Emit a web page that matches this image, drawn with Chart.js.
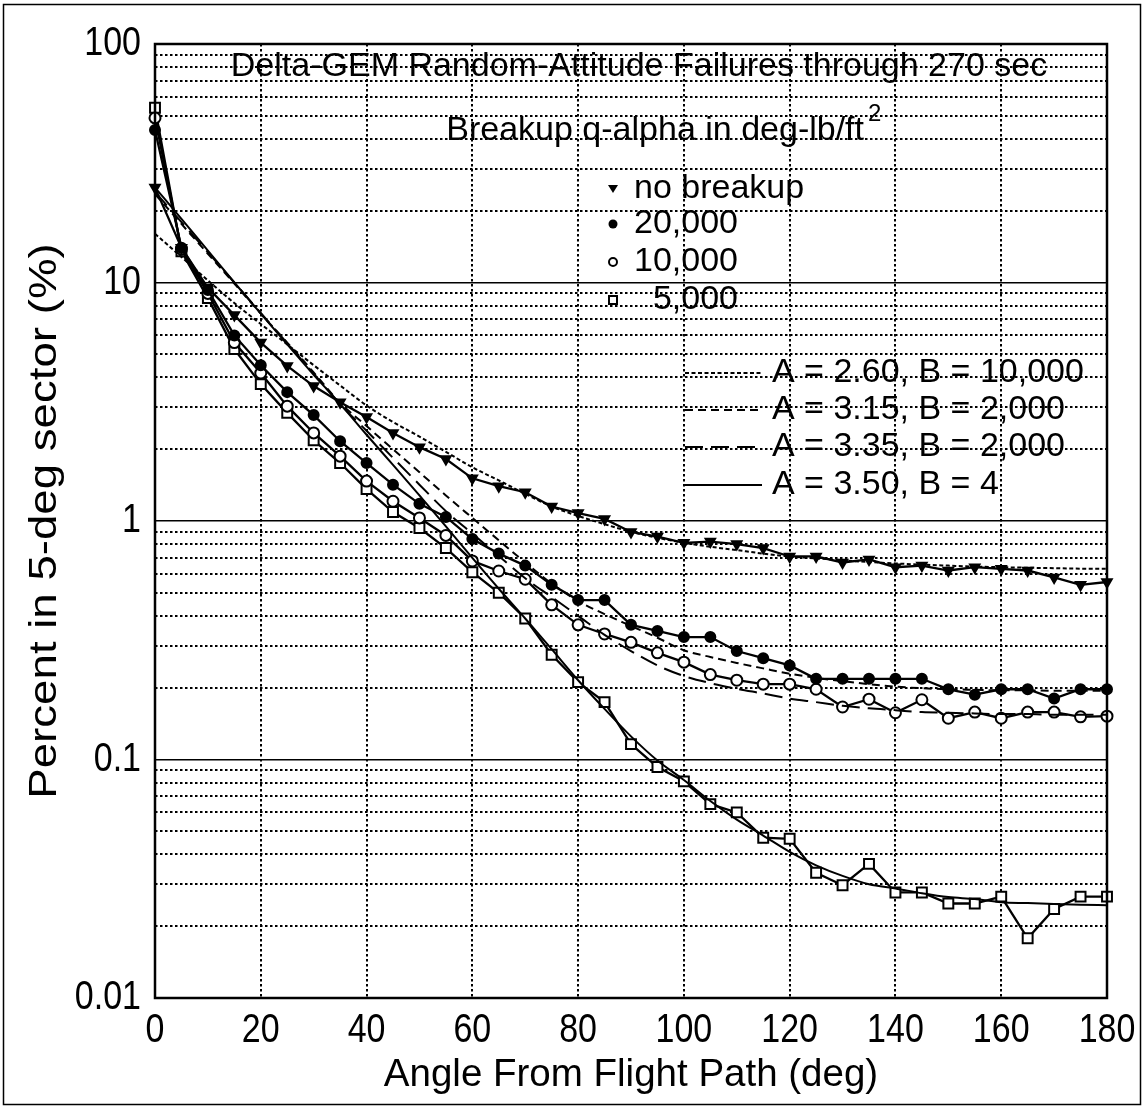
<!DOCTYPE html>
<html>
<head>
<meta charset="utf-8">
<title>Delta-GEM Random-Attitude Failures through 270 sec</title>
<script src="https://cdn.jsdelivr.net/npm/chart.js@4.4.0/dist/chart.umd.min.js"></script>
<style>
  html, body { margin: 0; padding: 0; background: #fff; }
</style>
</head>
<body>
<canvas id="chart" width="1145" height="1109"></canvas>
<script>
// Angle from flight path (deg), one point every 5 deg
const angles = [0, 5, 10, 15, 20, 25, 30, 35, 40, 45, 50, 55, 60, 65, 70, 75, 80, 85, 90,
  95, 100, 105, 110, 115, 120, 125, 130, 135, 140, 145, 150, 155, 160, 165, 170, 175, 180];

// Percent in 5-deg sector
const noBreakup = [25, 14.0, 9.5, 7.3, 5.6, 4.47, 3.68, 3.15, 2.73, 2.34, 2.04, 1.82, 1.51, 1.40, 1.32,
  1.15, 1.08, 1.02, 0.90, 0.86, 0.81, 0.82, 0.80, 0.77, 0.71, 0.71, 0.67, 0.69, 0.64, 0.65, 0.62,
  0.64, 0.63, 0.62, 0.58, 0.54, 0.555];
const q20000 = [43.6, 14.0, 9.3, 6.0, 4.5, 3.47, 2.78, 2.16, 1.75, 1.42, 1.18, 1.04, 0.84, 0.73, 0.65,
  0.54, 0.466, 0.466, 0.367, 0.346, 0.326, 0.326, 0.285, 0.266, 0.248, 0.218, 0.218, 0.218, 0.218,
  0.218, 0.197, 0.187, 0.197, 0.197, 0.180, 0.197, 0.197];
const q10000 = [49, 13.8, 9.0, 5.6, 4.17, 3.03, 2.34, 1.87, 1.47, 1.21, 1.03, 0.87, 0.68, 0.617, 0.57,
  0.445, 0.367, 0.336, 0.31, 0.28, 0.256, 0.227, 0.215, 0.207, 0.207, 0.197, 0.166, 0.179, 0.157,
  0.178, 0.149, 0.158, 0.149, 0.158, 0.158, 0.151, 0.152];
const q5000 = [54, 13.5, 8.6, 5.26, 3.75, 2.84, 2.18, 1.75, 1.36, 1.09, 0.935, 0.77, 0.61, 0.50, 0.39,
  0.275, 0.211, 0.174, 0.116, 0.093, 0.081, 0.065, 0.060, 0.047, 0.0465, 0.0335, 0.0297, 0.0365,
  0.0277, 0.0277, 0.0249, 0.0249, 0.0266, 0.0178, 0.0236, 0.0266, 0.0266];

// Fitted curves
const fitA260 = [16.0, 12.8, 10.2, 8.2, 6.7, 5.5, 4.5, 3.7, 3.05, 2.6, 2.26, 1.95, 1.68, 1.48, 1.30,
  1.15, 1.05, 0.97, 0.90, 0.85, 0.81, 0.78, 0.755, 0.73, 0.71, 0.697, 0.684, 0.673, 0.664, 0.656,
  0.65, 0.644, 0.64, 0.637, 0.634, 0.631, 0.63];
const fitA315 = [23.5, 17.6, 13.2, 9.9, 7.4, 5.6, 4.2, 3.13, 2.5, 2.0, 1.6, 1.28, 1.03, 0.83, 0.67,
  0.547, 0.462, 0.407, 0.363, 0.324, 0.287, 0.269, 0.254, 0.241, 0.229, 0.22, 0.213, 0.207, 0.202,
  0.199, 0.197, 0.196, 0.195, 0.195, 0.194, 0.194, 0.194];
const fitA335 = [24, 17.9, 13.4, 10.0, 7.45, 5.56, 4.15, 3.09, 2.39, 1.84, 1.42, 1.10, 0.885, 0.713,
  0.575, 0.48, 0.40, 0.333, 0.285, 0.248, 0.224, 0.209, 0.198, 0.189, 0.18, 0.174, 0.168, 0.164,
  0.161, 0.158, 0.157, 0.156, 0.155, 0.155, 0.154, 0.154, 0.154];
const fitA350 = [25, 18.5, 13.6, 10.0, 7.4, 5.5, 4.1, 3.1, 2.3, 1.72, 1.28, 0.95, 0.70, 0.52, 0.39,
  0.29, 0.215, 0.163, 0.125, 0.099, 0.082, 0.067, 0.056, 0.048, 0.041, 0.036, 0.0325, 0.030, 0.0288,
  0.0275, 0.0265, 0.026, 0.0252, 0.025, 0.0248, 0.0246, 0.0245];

// Axis ticks
const xTicks = [0, 20, 40, 60, 80, 100, 120, 140, 160, 180];
const yDecades = [0.01, 0.1, 1, 10, 100];
const yDecadeLabels = ['0.01', '0.1', '1', '10', '100'];

// Texts
const titleText = 'Delta-GEM Random-Attitude Failures through 270 sec';
const subtitleText = 'Breakup q-alpha in deg-lb/ft';
const xTitle = 'Angle From Flight Path (deg)';
const yTitle = 'Percent in 5-deg sector (%)';
const markerLabels = ['no breakup', '20,000', '10,000', '5,000'];
const fitLabels = ['A = 2.60, B = 10,000', 'A = 3.15, B = 2,000', 'A = 3.35, B = 2,000', 'A = 3.50, B = 4'];

const FONT = "'Liberation Sans', Arial, Helvetica, sans-serif";

function pts(values) {
  return angles.map((a, i) => ({ x: a, y: values[i] }));
}

function isDecade(v) {
  return yDecades.some(d => Math.abs(v / d - 1) < 1e-6);
}

// dash patterns for the four fits
const fitDashes = [[4, 2.5], [8, 5], [18, 8], []];

function fitSet(label, values, dash) {
  return {
    label: label, data: pts(values), borderColor: '#000', borderWidth: 2,
    borderDash: dash, pointRadius: 0, cubicInterpolationMode: 'monotone', clip: false
  };
}

function dataSet(label, values, style, radius, fill, rot) {
  return {
    label: label, data: pts(values), borderColor: '#000', borderWidth: 2.3,
    pointStyle: style, pointRadius: radius, pointRotation: rot || 0,
    pointBackgroundColor: fill, pointBorderColor: '#000', pointBorderWidth: 2,
    tension: 0, clip: false
  };
}

// text helper: sx/sy stretch the glyphs, rot turns them
function txt(ctx, s, x, y, size, align, sx, sy, rot) {
  ctx.save();
  ctx.translate(x, y);
  if (rot) ctx.rotate(rot);
  ctx.scale(sx || 1, sy || 1);
  ctx.font = size + 'px ' + FONT;
  ctx.textAlign = align || 'left';
  ctx.textBaseline = 'middle';
  ctx.fillStyle = '#000';
  ctx.fillText(s, 0, 0);
  ctx.restore();
}

// titles, tick labels, legends and frames drawn on top of the chart
const overlay = {
  id: 'overlay',
  afterDatasetsDraw(chart) {
    const { ctx, chartArea: a } = chart;
    ctx.save();
    ctx.strokeStyle = '#000';
    ctx.lineWidth = 2.5;
    ctx.strokeRect(a.left, a.top, a.right - a.left, a.bottom - a.top);
    ctx.restore();
  },
  afterDraw(chart) {
    const ctx = chart.ctx;
    const xs = chart.scales.x, ys = chart.scales.y;

    // tick labels (narrow, tall digits)
    xTicks.forEach(v => txt(ctx, String(v), xs.getPixelForValue(v), 1031, 40, 'center', 0.85, 1));
    yDecades.forEach((v, i) => txt(ctx, yDecadeLabels[i], 141, ys.getPixelForValue(v), 40, 'right', 0.85, 1));

    // axis titles
    txt(ctx, xTitle, (xs.left + xs.right) / 2, 1075, 38.5, 'center');
    txt(ctx, yTitle, 45, (ys.top + ys.bottom) / 2, 39, 'center', 1.17, 1, -Math.PI / 2);

    // chart titles
    txt(ctx, titleText, 639, 67, 34, 'center');
    txt(ctx, subtitleText, 864, 131, 34, 'right');
    txt(ctx, '2', 868, 114, 24, 'left');

    ctx.save();
    ctx.fillStyle = '#000';
    ctx.strokeStyle = '#000';

    // marker legend
    const my = [189, 224, 262, 300];
    txt(ctx, markerLabels[0], 634, my[0], 34, 'left');
    txt(ctx, markerLabels[1], 634, my[1], 34, 'left');
    txt(ctx, markerLabels[2], 634, my[2], 34, 'left');
    txt(ctx, markerLabels[3], 738, my[3], 34, 'right');
    ctx.lineWidth = 2;
    // triangle (pointing down)
    ctx.beginPath();
    ctx.moveTo(608, my[0] - 4);
    ctx.lineTo(618, my[0] - 4);
    ctx.lineTo(613, my[0] + 4);
    ctx.closePath();
    ctx.fill();
    // filled circle
    ctx.beginPath();
    ctx.arc(613, my[1], 4.5, 0, Math.PI * 2);
    ctx.fill();
    // open circle
    ctx.beginPath();
    ctx.arc(613, my[2], 4, 0, Math.PI * 2);
    ctx.fillStyle = '#fff';
    ctx.fill();
    ctx.stroke();
    // open square
    ctx.beginPath();
    ctx.rect(609, my[3] - 4, 8, 8);
    ctx.fill();
    ctx.stroke();
    ctx.fillStyle = '#000';

    // fit legend
    const fy = [373, 410, 447, 485];
    fitLabels.forEach((t, i) => {
      ctx.beginPath();
      ctx.setLineDash(fitDashes[i]);
      ctx.lineWidth = 2;
      ctx.moveTo(685, fy[i]);
      ctx.lineTo(762, fy[i]);
      ctx.stroke();
      ctx.setLineDash([]);
      txt(ctx, t, 772, fy[i], 34, 'left');
    });

    // outer page frame
    ctx.lineWidth = 1.5;
    ctx.strokeRect(3.5, 4.5, 1137, 1100);
    ctx.restore();
  }
};

new Chart(document.getElementById('chart'), {
  type: 'line',
  data: {
    datasets: [
      fitSet('A = 2.60, B = 10,000', fitA260, fitDashes[0]),
      fitSet('A = 3.15, B = 2,000', fitA315, fitDashes[1]),
      fitSet('A = 3.35, B = 2,000', fitA335, fitDashes[2]),
      fitSet('A = 3.50, B = 4', fitA350, fitDashes[3]),
      dataSet('no breakup', noBreakup, 'triangle', 5.5, '#000', 180),
      dataSet('20,000', q20000, 'circle', 5, '#000'),
      dataSet('10,000', q10000, 'circle', 5.5, '#fff'),
      dataSet('5,000', q5000, 'rect', 7, '#fff')
    ]
  },
  options: {
    responsive: false,
    animation: false,
    layout: { padding: { top: 44, right: 38, left: 0, bottom: 0 } },
    plugins: { legend: { display: false }, tooltip: { enabled: false }, title: { display: false } },
    scales: {
      x: {
        type: 'linear', min: 0, max: 180,
        afterBuildTicks: s => { s.ticks = xTicks.map(v => ({ value: v })); },
        afterFit: s => { s.height = 111; },
        ticks: { display: false },
        grid: { color: '#000', lineWidth: 2, drawTicks: false },
        border: { display: false, dash: [2.5, 2.5] }
      },
      y: {
        type: 'logarithmic', min: 0.01, max: 100,
        afterBuildTicks: s => {
          const t = [];
          yDecades.forEach((d, i) => {
            t.push({ value: d });
            if (i < yDecades.length - 1) {
              for (let m = 2; m <= 9; m++) t.push({ value: d * m });
            }
          });
          s.ticks = t;
        },
        afterFit: s => { s.width = 155; },
        ticks: { display: false, autoSkip: false },
        grid: {
          color: '#000', drawTicks: false,
          lineWidth: c => (c.tick && isDecade(c.tick.value)) ? 1.6 : 2
        },
        border: {
          display: false,
          dash: c => (c.tick && isDecade(c.tick.value)) ? [] : [2.5, 2.5]
        }
      }
    }
  },
  plugins: [overlay]
});
</script>
</body>
</html>
